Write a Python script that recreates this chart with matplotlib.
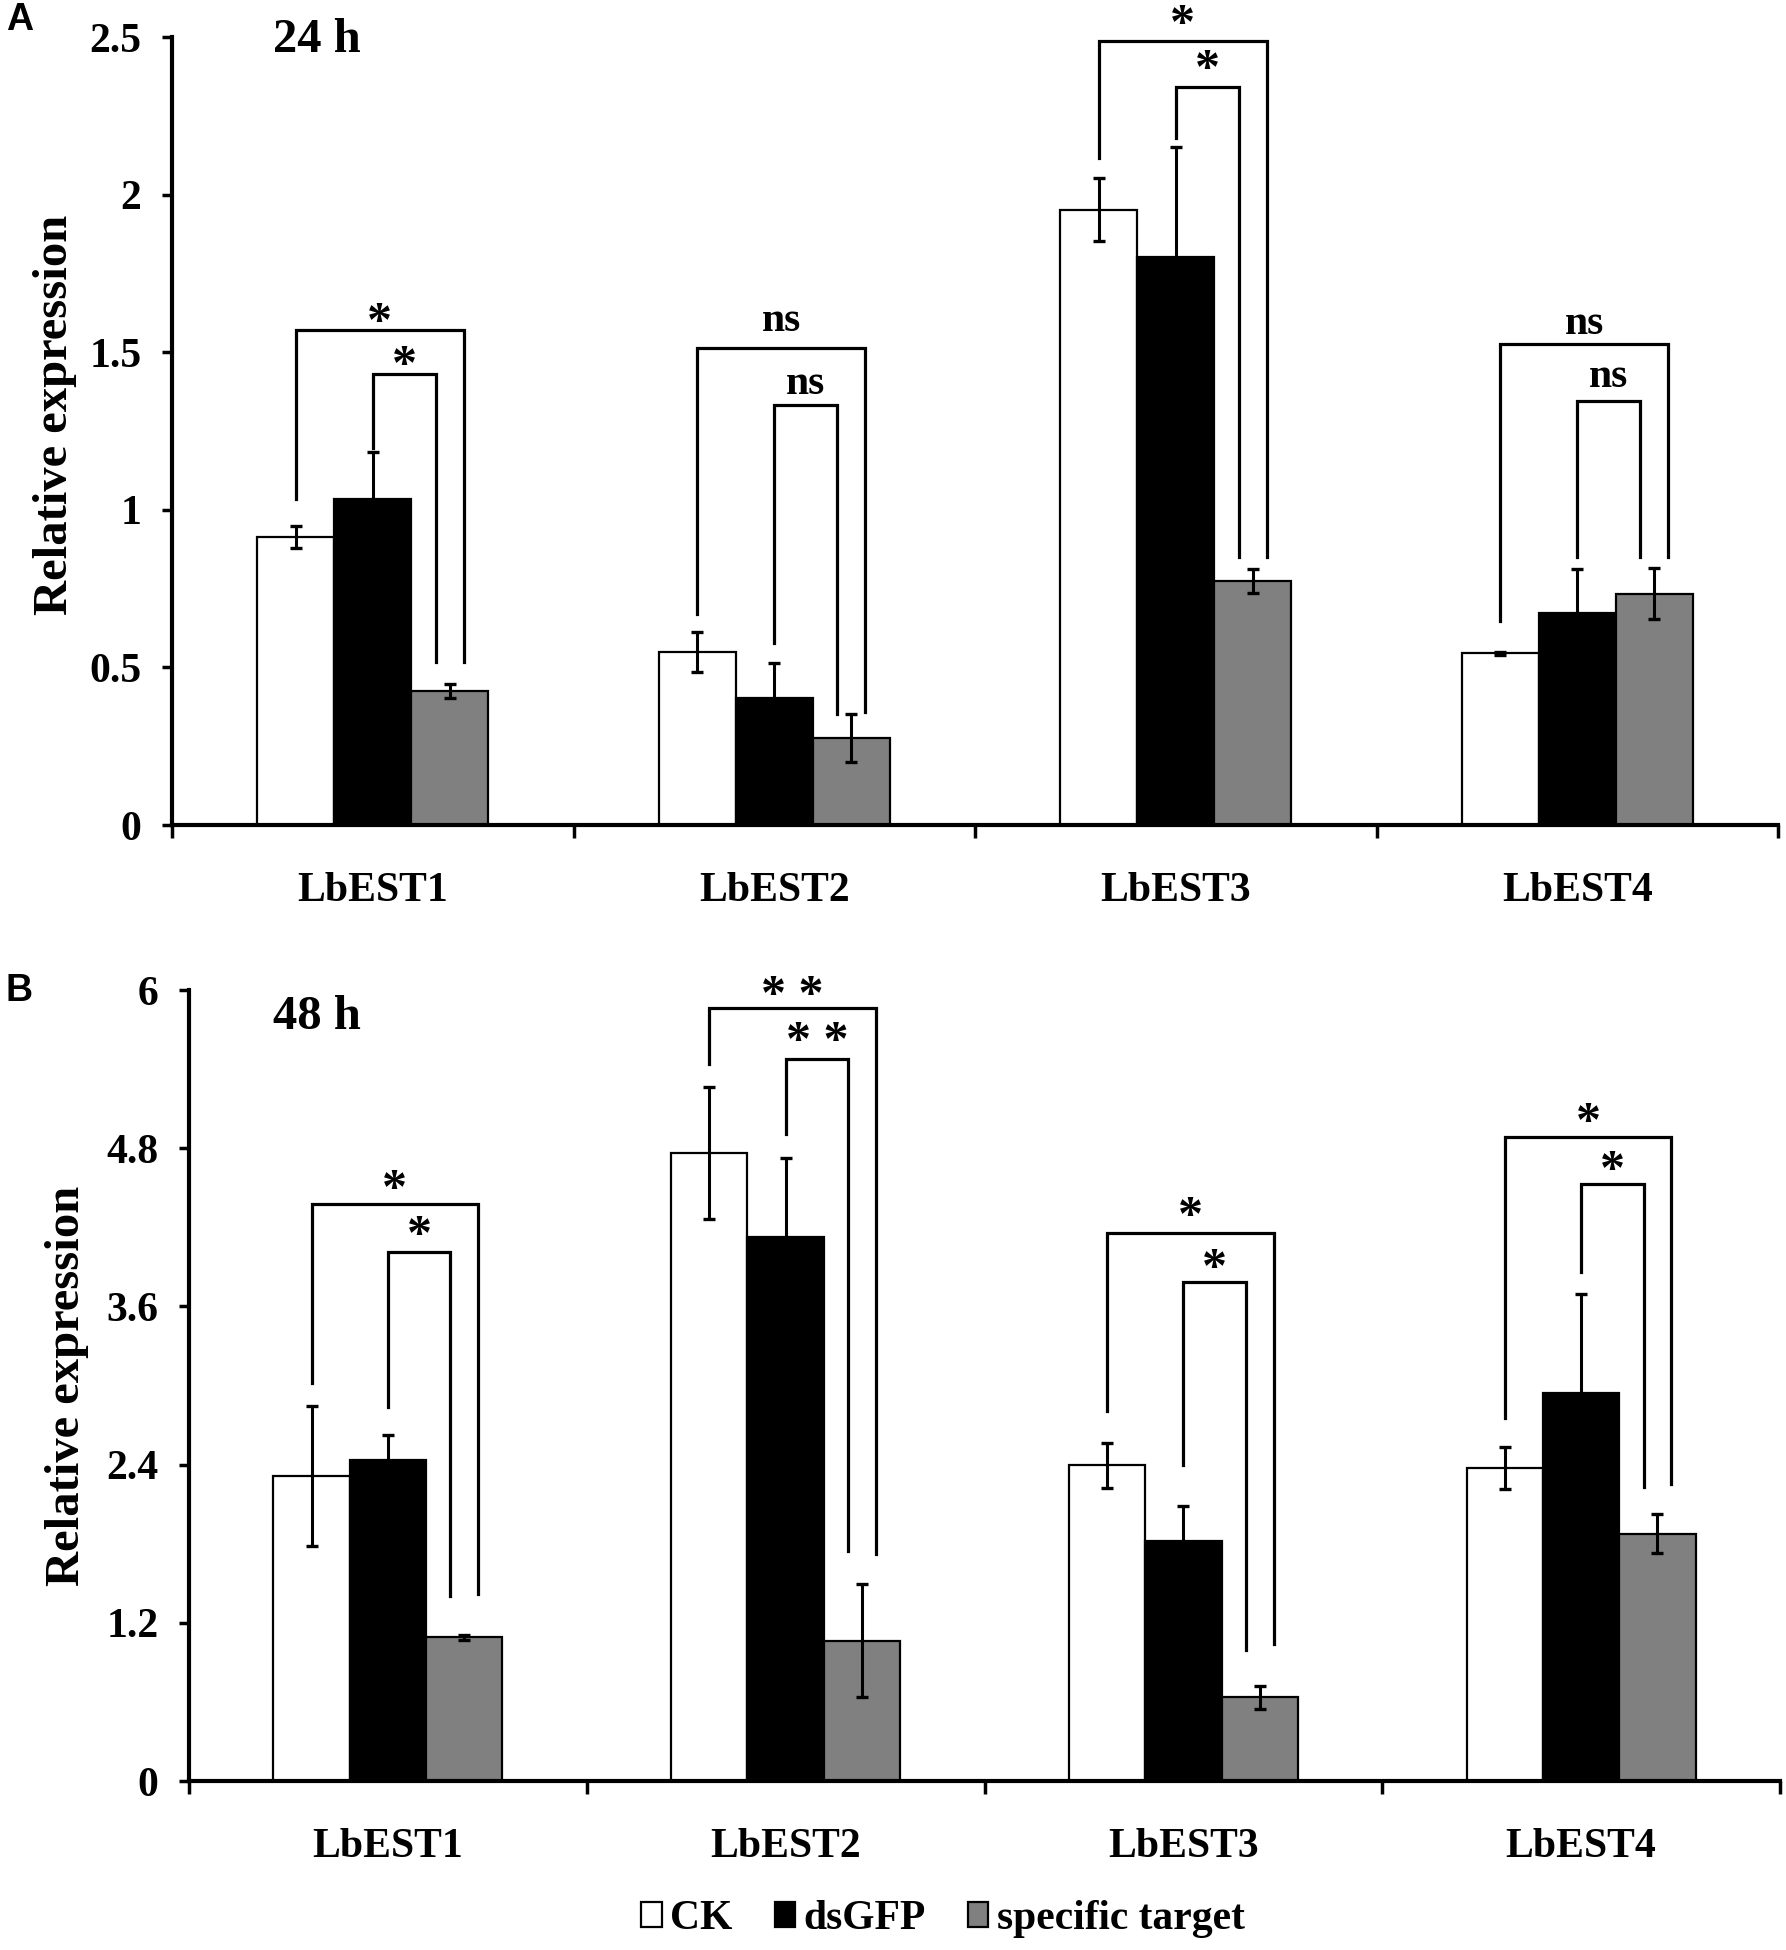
"""Relative expression of LbEST1-4 after dsRNA feeding, 24 h (A) and 48 h (B)."""
import matplotlib
matplotlib.use("Agg")
import matplotlib.pyplot as plt
from matplotlib.patches import Patch

SERIF = ["Liberation Serif", "DejaVu Serif"]
SANS = ["Liberation Sans", "DejaVu Sans"]

GENES = ["LbEST1", "LbEST2", "LbEST3", "LbEST4"]
TREATMENTS = ["CK", "dsGFP", "specific target"]
COLORS = ["white", "black", "#808080"]

# panel A, 24 h
A_CK = [0.914, 0.549, 1.952, 0.545]
A_CK_ERR = [0.035, 0.063, 0.10, 0.005]
A_GFP = [1.034, 0.403, 1.802, 0.672]
A_GFP_ERR = [0.15, 0.11, 0.35, 0.14]
A_TGT = [0.426, 0.276, 0.774, 0.734]
A_TGT_ERR = [0.022, 0.077, 0.037, 0.08]
A_YTICKS = [0, 0.5, 1, 1.5, 2, 2.5]
A_YTICKLABELS = ["0", "0.5", "1", "1.5", "2", "2.5"]
# significance brackets (CK vs target = outer, dsGFP vs target = inner)
A_OUT_TOP = [1.57, 1.512, 2.487, 1.525]
A_OUT_LEFT = [1.034, 0.669, 2.116, 0.647]
A_OUT_RIGHT = [0.517, 0.359, 0.85, 0.85]
A_OUT_LABEL = ["*", "ns", "*", "ns"]
A_OUT_LABEL_Y = [1.615, 1.60, 2.56, 1.59]
A_IN_TOP = [1.43, 1.333, 2.34, 1.346]
A_IN_LEFT = [1.197, 0.578, 2.18, 0.85]
A_IN_RIGHT = [0.517, 0.353, 0.85, 0.85]
A_IN_LABEL = ["*", "ns", "*", "ns"]
A_IN_LABEL_Y = [1.48, 1.40, 2.42, 1.42]

# panel B, 48 h
B_CK = [2.313, 4.766, 2.395, 2.376]
B_CK_ERR = [0.53, 0.50, 0.17, 0.16]
B_GFP = [2.434, 4.127, 1.824, 2.942]
B_GFP_ERR = [0.19, 0.60, 0.26, 0.75]
B_TGT = [1.089, 1.065, 0.634, 1.877]
B_TGT_ERR = [0.02, 0.43, 0.09, 0.145]
B_YTICKS = [0, 1.2, 2.4, 3.6, 4.8, 6]
B_YTICKLABELS = ["0", "1.2", "2.4", "3.6", "4.8", "6"]
B_OUT_TOP = [4.377, 5.866, 4.16, 4.886]
B_OUT_LEFT = [3.016, 5.44, 2.81, 2.757]
B_OUT_RIGHT = [1.417, 1.72, 1.04, 2.25]
B_OUT_LABEL = ["*", "* *", "*", "*"]
B_OUT_LABEL_Y = [4.54, 6.01, 4.33, 5.05]
B_IN_TOP = [4.014, 5.48, 3.787, 4.53]
B_IN_LEFT = [2.84, 4.91, 2.394, 3.86]
B_IN_RIGHT = [1.40, 1.745, 0.997, 2.23]
B_IN_LABEL = ["*", "* *", "*", "*"]
B_IN_LABEL_Y = [4.19, 5.66, 3.94, 4.68]

BAR_W = 0.192
LEG_OFF = 0.035  # right legs sit just beside the target bar centre


def bracket(ax, x0, x1, top, yl, yr, label, ly):
    ax.plot([x0, x0, x1, x1], [yl, top, top, yr], color="black", lw=2.3,
            solid_joinstyle="miter", clip_on=False, zorder=4)
    star = label.startswith("*")
    ax.annotate(label, ((x0 + x1) / 2, ly), xytext=(0, -6 if star else 0),
                textcoords="offset points", ha="center", va="center",
                fontsize=36 if star else 30, fontweight="bold", family=SERIF,
                annotation_clip=False)


def panel(ax, series, errs, yticks, yticklabels, outer, inner, title, title_pos):
    n = len(GENES)
    centers = [i + 0.5 for i in range(n)]
    for k, (vals, err, col) in enumerate(zip(series, errs, COLORS)):
        xs = [c + (k - 1) * BAR_W for c in centers]
        ax.bar(xs, vals, BAR_W, color=col, edgecolor="black", lw=1.6, zorder=2)
        ax.errorbar(xs, vals, yerr=err, fmt="none", ecolor="black",
                    elinewidth=2.2, capsize=4.5, capthick=2.4, zorder=3)
    for (top, yl, yr, lab, ly), right_off in ((outer, LEG_OFF), (inner, -LEG_OFF)):
        for i, c in enumerate(centers):
            x0 = c - BAR_W if right_off > 0 else c
            x1 = c + BAR_W + right_off
            bracket(ax, x0, x1, top[i], yl[i], yr[i], lab[i], ly[i])

    ax.set_xlim(0, n)
    ax.set_ylim(yticks[0], yticks[-1])
    ax.set_xticks(range(n + 1))
    ax.set_xticklabels([])
    ax.set_xticks(centers, minor=True)
    ax.set_xticklabels(GENES, minor=True, fontsize=30, fontweight="bold", family=SERIF)
    ax.tick_params(axis="x", which="major", direction="out", length=9, width=2.5)
    ax.tick_params(axis="x", which="minor", length=0, pad=34)
    ax.set_yticks(yticks)
    ax.set_yticklabels(yticklabels, fontsize=30, fontweight="bold", family=SERIF)
    ax.tick_params(axis="y", direction="out", length=7, width=2.5, pad=15)
    for s in ("top", "right"):
        ax.spines[s].set_visible(False)
    for s in ("left", "bottom"):
        ax.spines[s].set_linewidth(3)
    ax.set_ylabel("Relative expression", fontsize=35, fontweight="bold", family=SERIF)
    ax.text(title_pos[0], title_pos[1], title, transform=ax.transAxes, ha="left",
            va="center", fontsize=35, fontweight="bold", family=SERIF)


fig = plt.figure(figsize=(17.86, 19.5), dpi=100)
W, H = 1786, 1950

ax_a = fig.add_axes([172 / W, 1 - 825 / H, (1778 - 172) / W, (825 - 37) / H])
panel(ax_a, [A_CK, A_GFP, A_TGT], [A_CK_ERR, A_GFP_ERR, A_TGT_ERR], A_YTICKS, A_YTICKLABELS,
      (A_OUT_TOP, A_OUT_LEFT, A_OUT_RIGHT, A_OUT_LABEL, A_OUT_LABEL_Y),
      (A_IN_TOP, A_IN_LEFT, A_IN_RIGHT, A_IN_LABEL, A_IN_LABEL_Y), "24 h", (0.063, 0.996))
ax_a.yaxis.set_label_coords((77 - 172) / 1606, 0.52)

ax_b = fig.add_axes([189 / W, 1 - 1781 / H, (1780 - 189) / W, (1781 - 990) / H])
panel(ax_b, [B_CK, B_GFP, B_TGT], [B_CK_ERR, B_GFP_ERR, B_TGT_ERR], B_YTICKS, B_YTICKLABELS,
      (B_OUT_TOP, B_OUT_LEFT, B_OUT_RIGHT, B_OUT_LABEL, B_OUT_LABEL_Y),
      (B_IN_TOP, B_IN_LEFT, B_IN_RIGHT, B_IN_LABEL, B_IN_LABEL_Y), "48 h", (0.053, 0.966))
ax_b.yaxis.set_label_coords((89 - 189) / 1591, 0.5)

fig.text(6 / W, 1 - 20 / H, "A", fontsize=27, fontweight="bold", family=SANS, va="center")
fig.text(6 / W, 1 - 991 / H, "B", fontsize=27, fontweight="bold", family=SANS, va="center")

handles = [Patch(facecolor=c, edgecolor="black", lw=1.6) for c in COLORS]
fig.legend(handles, TREATMENTS, loc="center", bbox_to_anchor=(943 / W, 1 - 1919 / H),
           ncol=3, frameon=False, handlelength=0.5, handleheight=0.55,
           handletextpad=0.2, columnspacing=1.0,
           prop={"family": SERIF, "weight": "bold", "size": 30})

fig.savefig("out.png", dpi=100)
